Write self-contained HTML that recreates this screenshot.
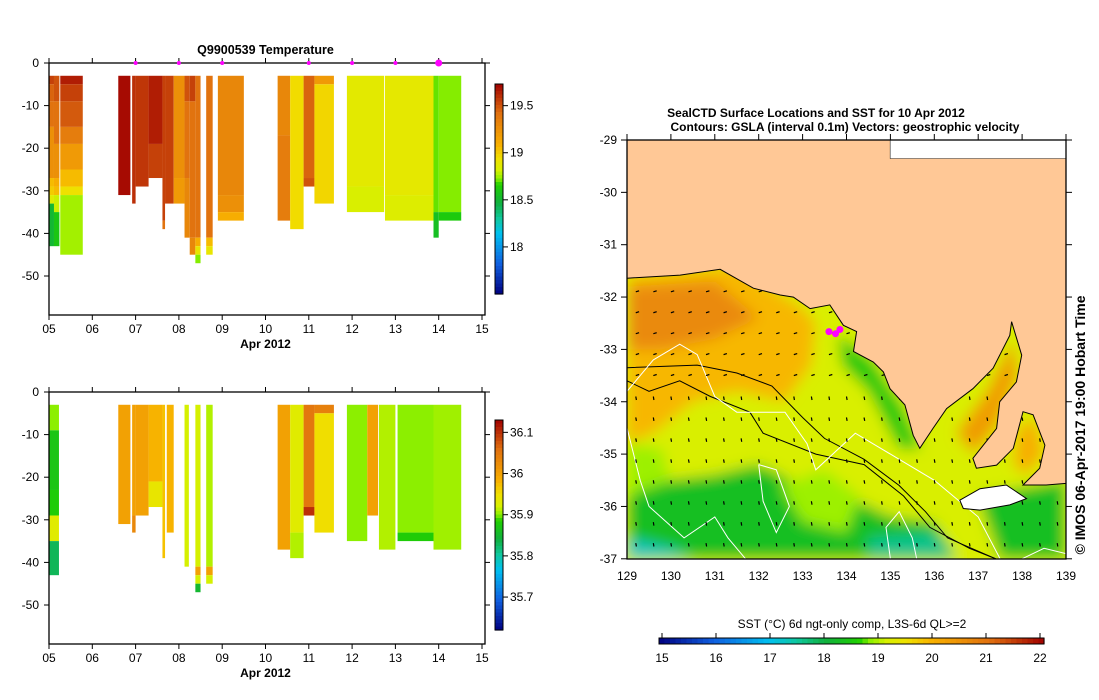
<!DOCTYPE html>
<html><head><meta charset="utf-8">
<style>
html,body{margin:0;padding:0;background:#fff;}
svg{display:block;font-family:"Liberation Sans",sans-serif;}
</style></head>
<body>
<svg id="root" width="1099" height="700" viewBox="0 0 1099 700" xmlns="http://www.w3.org/2000/svg">
<defs>
<filter id="blur" x="-5%" y="-5%" width="110%" height="110%"><feGaussianBlur stdDeviation="7"/></filter>
<clipPath id="mapclip"><rect x="627" y="140" width="439" height="419"/></clipPath>
</defs>
<g id="tempChart"></g>
<g id="salChart"></g>
<g id="mapChart"></g>
</svg>
<script>
// ---------- data ----------
const profStartT = [0,0.115,0.26,1.6,1.92,2.0,2.3,2.62,2.68,2.88,3.13,3.25,3.38,3.63,3.9,5.28,5.57,5.88,6.13,6.88,7.76,8.88,9.0];
const profEndT   = [0.115,0.24,0.78,1.88,2.0,2.3,2.62,2.68,2.88,3.13,3.25,3.38,3.5,3.78,4.5,5.57,5.88,6.13,6.58,7.74,8.88,9.0,9.52];
const profTemp = [
 [[5,19.55],[9,19.45],[15,19.4],[27,19.25],[29,19.05],[31,19.0],[33,18.85],[43,18.5]],
 [[9,19.5],[19,19.4],[27,19.25],[29,19.1],[31,19.05],[35,18.8],[43,18.6]],
 [[5,19.65],[9,19.55],[15,19.48],[19,19.35],[25,19.2],[29,19.05],[31,18.93],[45,18.75]],
 [[31,19.7]],
 [[33,19.6]],
 [[29,19.58]],
 [[19,19.65],[27,19.55]],
 [[37,19.55],[39,19.4]],
 [[33,19.55]],
 [[27,19.25],[33,19.2]],
 [[9,19.5],[27,19.4],[41,19.3]],
 [[9,19.55],[41,19.4],[45,19.3]],
 [[41,19.4],[43,19.1],[45,18.9],[47,18.72]],
 [[41,19.4],[43,19.05],[45,18.9]],
 [[31,19.3],[35,19.25],[37,19.1]],
 [[17,19.3],[37,19.35]],
 [[39,18.95]],
 [[27,19.45],[29,19.5]],
 [[5,19.2],[33,18.97]],
 [[29,18.87],[35,18.82]],
 [[31,18.88],[37,18.84]],
 [[35,18.7],[41,18.55]],
 [[35,18.72],[37,18.62]]
];
const salStartT = [0,1.6,1.92,2.0,2.3,2.62,2.72,3.13,3.38,3.63,5.28,5.57,5.88,6.13,6.88,7.35,7.62,8.05,8.88];
const salEndT   = [0.23,1.88,2.0,2.3,2.62,2.68,2.88,3.23,3.5,3.78,5.57,5.88,6.13,6.58,7.35,7.6,8.0,8.88,9.52];
const profSal = [
 [[9,35.9],[23,35.87],[29,35.88],[35,35.93],[43,35.83]],
 [[31,36.0]],
 [[29,36.0],[33,36.03]],
 [[29,36.0]],
 [[21,35.98],[27,35.94]],
 [[39,35.97]],
 [[33,35.98]],
 [[41,35.92]],
 [[41,35.92],[43,36.0],[45,35.92],[47,35.85]],
 [[41,35.91],[43,36.0],[45,35.92]],
 [[37,36.0]],
 [[33,35.93],[39,35.91]],
 [[27,36.05],[29,36.1]],
 [[5,36.04],[33,35.95]],
 [[35,35.9]],
 [[29,36.0]],
 [[37,35.91]],
 [[33,35.9],[35,35.88]],
 [[37,35.905]]
];
const dayLabels = ["05","06","07","08","09","10","11","12","13","14","15"];
const depthTicks = [0,-10,-20,-30,-40,-50];
const tempTicks = [19.5,19,18.5,18];
const salTicks = [36.1,36,35.9,35.8,35.7];
const markerDays = [2,3,4,6,7,8,9];
const lonTicks = [129,130,131,132,133,134,135,136,137,138,139];
const latTicks = [-29,-30,-31,-32,-33,-34,-35,-36,-37];
const sstTicks = [15,16,17,18,19,20,21,22];

// ---------- colormap ----------
const cmStops=[[0,"#000080"],[0.143,"#1060e0"],[0.286,"#00c0f0"],[0.357,"#10c8a0"],[0.43,"#10b040"],[0.52,"#20d000"],[0.55,"#90f000"],[0.59,"#d8f000"],[0.645,"#f0e000"],[0.71,"#f8b000"],[0.86,"#e07010"],[1,"#a00000"]];
function hex(h){return [parseInt(h.substr(1,2),16),parseInt(h.substr(3,2),16),parseInt(h.substr(5,2),16)];}
function cmap(t){t=Math.max(0,Math.min(1,t));for(let i=1;i<cmStops.length;i++){if(t<=cmStops[i][0]){const a=cmStops[i-1],b=cmStops[i];const f=(t-a[0])/(b[0]-a[0]);const A=hex(a[1]),B=hex(b[1]);return "rgb("+A.map((v,k)=>Math.round(v+(B[k]-v)*f)).join(",")+")";}}return cmStops[cmStops.length-1][1];}
const NS="http://www.w3.org/2000/svg";
function mk(parent,tag,attrs,text){const e=document.createElementNS(NS,tag);for(const k in attrs)e.setAttribute(k,attrs[k]);if(text!==undefined)e.textContent=text;parent.appendChild(e);return e;}

// ---------- profile chart ----------
function profileChart(g,top,starts,ends,profs,vmin,vmax,cbTop,cbBot,cbTicks,title,markers){
  const L=49,R=485,pxDay=43.3,pxM=4.26,bottom=top+252;
  const xS=d=>L+d*pxDay, yS=m=>top+m*pxM;
  const cb=v=>cbBot-(v-vmin)/(vmax-vmin)*(cbBot-cbTop);
  for(let i=0;i<profs.length;i++){
    let d0=3;
    for(const s of profs[i]){
      const r=mk(g,"rect",{x:xS(starts[i]),y:yS(d0),width:Math.max(1,xS(ends[i])-xS(starts[i])),height:yS(s[0])-yS(d0),fill:cmap((s[1]-vmin)/(vmax-vmin))});
      
      
      d0=s[0];
    }
  }
  mk(g,"rect",{x:L,y:top,width:R-L,height:bottom-top,fill:"none",stroke:"#000","stroke-width":1.3,});
  depthTicks.forEach(t=>{const y=yS(-t);
    mk(g,"line",{x1:L-5,x2:L,y1:y,y2:y,stroke:"#000"});
    mk(g,"line",{x1:R,x2:R+5,y1:y,y2:y,stroke:"#000"});
    const tx=mk(g,"text",{x:L-10,y:y+4,"font-size":12,"text-anchor":"end"},String(t));
    });
  dayLabels.forEach((lab,i)=>{const x=xS(i);
    mk(g,"line",{x1:x,x2:x,y1:bottom,y2:bottom+5,stroke:"#000"});
    mk(g,"line",{x1:x,x2:x,y1:top-5,y2:top,stroke:"#000"});
    const tx=mk(g,"text",{x:x,y:bottom+18,"font-size":12,"text-anchor":"middle"},lab);
    });
  const xl=mk(g,"text",{x:xS(5),y:bottom+33,"font-size":12,"font-weight":"bold","text-anchor":"middle"},"Apr 2012");
  
  if(title){const tt=mk(g,"text",{x:xS(5),y:top-9,"font-size":12.5,"font-weight":"bold","text-anchor":"middle"},title);
    }
  if(markers){markers.forEach(d=>{const c=mk(g,"circle",{cx:xS(d),cy:top,r:d===9?3.5:2,fill:"#ff00ff"});
    });}
  const cbg=mk(g,"g",{});
  const N=60;for(let k=0;k<N;k++){const y0=cbTop+(cbBot-cbTop)*k/N;mk(cbg,"rect",{x:495,y:y0,width:8,height:(cbBot-cbTop)/N+0.6,fill:cmap(1-(k+0.5)/N)});}
  mk(cbg,"rect",{x:495,y:cbTop,width:8,height:cbBot-cbTop,fill:"none",stroke:"#000"});
  cbTicks.forEach(v=>{const y=cb(v);mk(cbg,"line",{x1:503,x2:508,y1:y,y2:y,stroke:"#000"});
    const tx=mk(cbg,"text",{x:510,y:y+4,"font-size":12},String(v));});
}
profileChart(document.getElementById("tempChart"),63,profStartT,profEndT,profTemp,17.5,19.73,84,294,tempTicks,"Q9900539  Temperature",markerDays);
profileChart(document.getElementById("salChart"),392,salStartT,salEndT,profSal,35.62,36.13,420,630,salTicks,null,null);

// ---------- map ----------
const coastLon=[129,130.21,131.12,131.88,132.49,132.79,133.17,133.62,133.93,134.23,134.16,134.61,134.84,134.99,135.33,135.52,135.67,135.97,136.28,136.88,137.34,137.72,137.76,137.99,137.87,137.49,137.42,136.88,136.96,137.42,137.8,138.02,138.25,138.52,138.4,138.02,138.55,139];
const coastLat=[-31.64,-31.58,-31.47,-31.83,-31.96,-32,-32.22,-32.15,-32.54,-32.66,-33.04,-33.24,-33.43,-33.75,-34.06,-34.64,-34.89,-34.51,-34.13,-33.75,-33.36,-32.73,-32.47,-33.11,-33.62,-34,-34.51,-35.08,-35.27,-35.21,-34.89,-34.19,-34.25,-34.83,-35.27,-35.59,-35.59,-35.56];
const kiLon=[136.58,137.04,137.64,138.1,137.72,137.04,136.66];
const kiLat=[-35.88,-35.66,-35.59,-35.85,-35.97,-36.07,-36.04];
const sstRegionVal=[19.9,20.6,18.9,18.3,18.9,17.3,17.6,18.3,18.5,20.3,20.0];
const sstRegionLon=[
 [129,131.5,133,133.3,133.2,132.6,131.5,130.5,129.6,129],
 [129,131,132,131,129.8,129],
 [129,129.8,130,129.4,129],
 [129,130,131,132,133,134,135,136,136.5,129],
 [132.5,133.5,134.3,134,133],
 [129,130,130.5,129],
 [134.5,136,136.5,134.5],
 [137,139,139,137.5],
 [133.8,134.6,135.3,135.7,135.2,134.5,133.9],
 [136.5,137.2,137.8,137.9,137.4,136.9],
 [137.9,138.3,138.5,138.1,137.8]];
const sstRegionLat=[
 [-31.6,-31.4,-32.2,-32.5,-33.3,-34,-33.8,-34,-34.6,-34.8],
 [-31.8,-31.7,-32.4,-32.8,-33,-33],
 [-34.8,-34.9,-35.6,-35.9,-35.8],
 [-35.8,-35.5,-35.4,-35.2,-35.6,-35.8,-36.2,-36.3,-37,-37],
 [-35.6,-35.3,-35.8,-36.5,-36.3],
 [-36.6,-36.8,-37,-37],
 [-36.6,-36.5,-37,-37],
 [-35.8,-35.5,-37,-37],
 [-32.7,-33.2,-34.1,-34.9,-34.9,-33.8,-33.3],
 [-34.6,-33.8,-32.8,-33.5,-34.5,-35],
 [-34.5,-34.3,-35,-35.4,-35.2]];
const contourBlackLon=[[129,130.6,131.5,132.3,133,133.5,134.4,135.2,135.8,136.3,137.4],[129,129.5,130.2,130.9,131.8,132.1,133.3,134.4,135.3,135.9,136.8,137.4]];
const contourBlackLat=[[-33.35,-33.3,-33.45,-33.7,-34.3,-34.7,-35.1,-35.6,-36.1,-36.6,-37],[-33.6,-33.8,-33.6,-33.9,-34.2,-34.6,-35,-35.2,-35.8,-36.4,-36.8,-37]];
const contourWhiteLon=[[129,129.6,130.2,130.6,131,131.5,132.6,133.1,133.3,134.2,135,136,137,137.5],[132,132.4,132.7,132.4,132.1,132],[129,129.3,129.5,130.3,131,131.3,131.7],[135,134.9,135.2,135.5,135.6],[138,138.5,139]];
const contourWhiteLat=[[-33.8,-33.2,-32.9,-33.1,-33.9,-34.2,-34.2,-34.8,-35.3,-34.6,-35,-35.5,-36.2,-37],[-35.2,-35.3,-36,-36.5,-35.9,-35.2],[-34.5,-35.5,-36,-36.6,-36.2,-36.6,-37],[-37,-36.4,-36.1,-36.6,-37],[-37,-36.8,-36.9]];
const stationLon=[133.6,133.75,133.85];
const stationLat=[-32.66,-32.7,-32.62];

(function(){
  const g=document.getElementById("mapChart");
  const mx=lo=>627+(lo-129)*43.9, my=la=>140+(-29-la)*52.35;
  const pts=(lo,la)=>lo.map((v,i)=>mx(v).toFixed(1)+","+my(la[i]).toFixed(1)).join(" ");
  const sv=v=>cmap((v-15)/7);
  const sea=mk(g,"g",{"clip-path":"url(#mapclip)"});
  
  const blurG=mk(sea,"g",{filter:"url(#blur)"});
  mk(blurG,"rect",{x:610,y:130,width:470,height:440,fill:sv(19.15)});
  sstRegionVal.forEach((v,i)=>{const p=mk(blurG,"polygon",{points:pts(sstRegionLon[i],sstRegionLat[i]),fill:sv(v)});
    });
  contourBlackLon.forEach((lo,i)=>{const p=mk(sea,"polyline",{points:pts(lo,contourBlackLat[i]),fill:"none",stroke:"#000","stroke-width":1});
    });
  contourWhiteLon.forEach((lo,i)=>{const p=mk(sea,"polyline",{points:pts(lo,contourWhiteLat[i]),fill:"none",stroke:"#fff","stroke-width":1});
    });
  const vg=mk(sea,"g",{stroke:"#000","stroke-width":1.2});
  
  for(let la=-31.9;la>-37;la-=0.4){for(let lo=129.2;lo<139;lo+=0.4){
    const x=mx(lo),y=my(la);
    const horiz=la>-33.8;const ang=horiz?-0.3:1.4;
    mk(vg,"line",{x1:x,y1:y,x2:(x+3.5*Math.cos(ang)).toFixed(1),y2:(y+3.5*Math.sin(ang)).toFixed(1)});}}
  const landLon=[129].concat(coastLon,[139,135,135]);
  const landLat=[-29].concat(coastLat,[-29.35,-29.35,-29]);
  const land=mk(sea,"polygon",{points:pts(landLon,landLat),fill:"#ffc896",stroke:"#000","stroke-width":1});
  
  mk(sea,"rect",{x:mx(135),y:140,width:mx(139)-mx(135),height:my(-29.35)-140,fill:"#fff"});
  mk(sea,"line",{x1:627,y1:my(-31.64),x2:627,y2:140,stroke:"#ffc896"});
  const ki=mk(sea,"polygon",{points:pts(kiLon,kiLat),fill:"#fff",stroke:"#000","stroke-width":1});
  
  stationLon.forEach((lo,i)=>{const c=mk(sea,"circle",{cx:mx(lo),cy:my(stationLat[i]),r:3.5,fill:"#ff00ff"});
    });
  mk(g,"rect",{x:627,y:140,width:439,height:419,fill:"none",stroke:"#000","stroke-width":1.3});
  lonTicks.forEach(lo=>{const x=mx(lo);mk(g,"line",{x1:x,x2:x,y1:134,y2:140,stroke:"#000"});
    const t=mk(g,"text",{x:x,y:580,"font-size":12,"text-anchor":"middle"},String(lo));});
  latTicks.forEach(la=>{const y=my(la);mk(g,"line",{x1:621,x2:627,y1:y,y2:y,stroke:"#000"});mk(g,"line",{x1:1066,x2:1072,y1:y,y2:y,stroke:"#000"});
    const t=mk(g,"text",{x:617,y:y+4,"font-size":12,"text-anchor":"end"},String(la));});
  const t1=mk(g,"text",{x:816,y:117,"font-size":12,"font-weight":"bold","text-anchor":"middle"},"SealCTD Surface Locations and SST for 10 Apr 2012");
  
  const t2=mk(g,"text",{x:845,y:131,"font-size":12,"font-weight":"bold","text-anchor":"middle"},"Contours: GSLA (interval 0.1m) Vectors: geostrophic velocity");
  
  const cr=mk(g,"text",{x:0,y:0,"font-size":14,"font-weight":"bold","text-anchor":"middle",transform:"translate(1085,425) rotate(-90)"},"© IMOS 06-Apr-2017 19:00 Hobart Time");
  
  const cbg=mk(g,"g",{});
  const cx=v=>662+(v-15)*54;
  const N=70;for(let k=0;k<N;k++){const x0=659+385*k/N;mk(cbg,"rect",{x:x0,y:638,width:385/N+0.6,height:6,fill:cmap((k+0.5)/N)});}
  mk(cbg,"rect",{x:659,y:638,width:385,height:6,fill:"none",stroke:"#000"});
  sstTicks.forEach(v=>{const x=cx(v);mk(cbg,"line",{x1:x,x2:x,y1:633,y2:638,stroke:"#000"});
    const t=mk(cbg,"text",{x:x,y:662,"font-size":12,"text-anchor":"middle"},String(v));});
  const ct=mk(cbg,"text",{x:852,y:628,"font-size":12,"text-anchor":"middle"},"SST (°C) 6d ngt-only comp, L3S-6d QL>=2");
  
})();
</script>
</body></html>
